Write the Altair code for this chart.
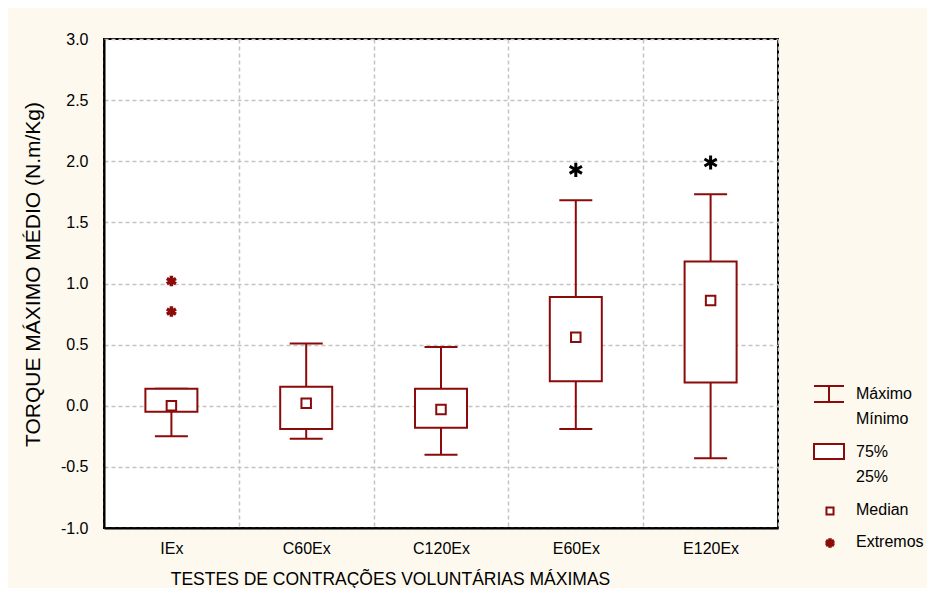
import altair as alt
import pandas as pd

RED = "#8b0a0a"
CREAM = "#fdf9ef"
FONT = "Liberation Sans"

categories = ["IEx", "C60Ex", "C120Ex", "E60Ex", "E120Ex"]
minimum = [-0.25, -0.27, -0.40, -0.19, -0.43]
q1 = [-0.05, -0.19, -0.18, 0.20, 0.19]
median = [0.00, 0.02, -0.03, 0.56, 0.86]
q3 = [0.14, 0.155, 0.14, 0.89, 1.18]
maximum = [0.14, 0.51, 0.48, 1.68, 1.73]

ext_cat = ["IEx", "IEx", "E60Ex", "E120Ex"]
ext_val = [1.02, 0.77, 1.93, 1.99]
ext_color = [RED, RED, "black", "black"]
ext_size = [110, 110, 200, 200]
ext_width = [3.5, 3.5, 3, 3]

y_ticks = [-1.0, -0.5, 0.0, 0.5, 1.0, 1.5, 2.0, 2.5, 3.0]

df = pd.DataFrame({"cat": categories, "mn": minimum, "q1": q1, "med": median,
                   "q3": q3, "mx": maximum})
ext = pd.DataFrame({"cat": ext_cat, "v": ext_val, "c": ext_color,
                    "s": ext_size, "w": ext_width})

ASTER = "M0,-1L0,1M-0.87,-0.5L0.87,0.5M-0.87,0.5L0.87,-0.5"

x_enc = alt.X("cat:N", sort=categories,
              scale=alt.Scale(paddingInner=0, paddingOuter=0),
              axis=alt.Axis(title="TESTES DE CONTRAÇÕES VOLUNTÁRIAS MÁXIMAS",
                            labelAngle=0, tickBand="extent", labelPadding=12,
                            titleX=286, titleY=51, titleBaseline="middle",
                            titleAlign="center", titleFontWeight="normal",
                            titleFontSize=17.5))
y_scale = alt.Scale(domain=[-1, 3], nice=False, zero=False)
y_axis = alt.Axis(title="TORQUE MÁXIMO MÉDIO (N.m/Kg)", values=y_ticks,
                  labelExpr="datum.value < 0 ? '-' + format(-datum.value, '.1f') : format(datum.value, '.1f')",
                  labelPadding=16, titleX=-71, titleY=235, titleAngle=-90,
                  titleAlign="center", titleBaseline="middle",
                  titleFontWeight="normal", titleFontSize=21)

base = alt.Chart(df).encode(x=x_enc)

lower = base.mark_rule(color=RED, strokeWidth=2).encode(
    y=alt.Y("mn:Q", scale=y_scale, axis=y_axis), y2="q1:Q")
upper = base.mark_rule(color=RED, strokeWidth=2).encode(y="q3:Q", y2="mx:Q")
cap_lo = base.mark_tick(color=RED, size=33, thickness=2, opacity=1).encode(y="mn:Q")
cap_hi = base.mark_tick(color=RED, size=33, thickness=2, opacity=1).encode(y="mx:Q")
box = base.mark_bar(size=52, fill="white", stroke=RED, strokeWidth=2).encode(
    y="q1:Q", y2="q3:Q")
med = base.mark_point(shape="square", size=90, filled=True, fill="white",
                      stroke=RED, strokeWidth=2, opacity=1).encode(y="med:Q")

extremes = alt.Chart(ext).mark_point(shape=ASTER, filled=False, opacity=1).encode(
    x=alt.X("cat:N", sort=categories),
    y="v:Q",
    stroke=alt.Color("c:N", scale=None),
    size=alt.Size("s:Q", scale=None),
    strokeWidth=alt.StrokeWidth("w:Q", scale=None),
)

one = alt.Data(values=[{"a": 1}])
leg = []
leg.append(alt.Chart(one).mark_rule(color=RED, strokeWidth=2).encode(
    x=alt.value(710), x2=alt.value(740), y=alt.value(347)))
leg.append(alt.Chart(one).mark_rule(color=RED, strokeWidth=2).encode(
    x=alt.value(710), x2=alt.value(740), y=alt.value(363)))
leg.append(alt.Chart(one).mark_rule(color=RED, strokeWidth=2).encode(
    x=alt.value(725), y=alt.value(347), y2=alt.value(363)))
leg.append(alt.Chart(one).mark_rect(fill="white", stroke=RED, strokeWidth=2).encode(
    x=alt.value(710), x2=alt.value(740), y=alt.value(405), y2=alt.value(420)))
leg.append(alt.Chart(one).mark_point(shape="square", size=50, filled=True, fill="white",
                                     stroke=RED, strokeWidth=2, opacity=1).encode(
    x=alt.value(726), y=alt.value(472)))
leg.append(alt.Chart(one).mark_point(shape=ASTER, size=90, filled=False, stroke=RED,
                                     strokeWidth=3.5, opacity=1).encode(
    x=alt.value(726), y=alt.value(504)))

legend_labels = ["Máximo", "Mínimo", "75%", "25%", "Median", "Extremos"]
legend_y = [355, 380, 413, 438, 471, 503]
for lab, ly in zip(legend_labels, legend_y):
    leg.append(alt.Chart(one).mark_text(align="left", baseline="middle", font=FONT,
                                        fontSize=16, color="black").encode(
        x=alt.value(752), y=alt.value(ly), text=alt.value(lab)))

chart = alt.layer(lower, upper, cap_lo, cap_hi, box, med, extremes, *leg).properties(
    width=674, height=489,
    autosize=alt.AutoSizeParams(type="none"),
    padding={"left": 96, "top": 31, "right": 149, "bottom": 60},
    background=CREAM,
).configure_view(
    fill="white", stroke="black", strokeWidth=2
).configure_axis(
    labelFont=FONT, titleFont=FONT, labelFontSize=16, titleFontSize=17,
    labelColor="black", titleColor="black",
    domainColor="black", domainWidth=2, ticks=False,
    grid=True, gridColor="#c4c4c4", gridDash=[4, 3], gridWidth=1.5,
)

chart.save("out.html", embed_options={"renderer": "svg", "actions": False})
